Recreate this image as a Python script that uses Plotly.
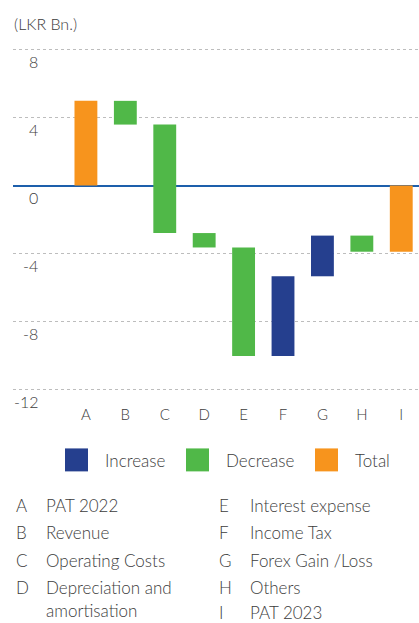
import plotly.graph_objects as go

# ---- data ----
categories = ["A", "B", "C", "D", "E", "F", "G", "H", "I"]
measures = ["total", "relative", "relative", "relative", "relative",
            "relative", "relative", "relative", "total"]
values = [5.0, -1.4, -6.4, -0.85, -6.4, 4.7, 2.4, -0.95, -3.9]

y_tickvals = [8, 4, 0, -4, -8, -12]
y_ticktext = ["8", "4", "0", "-4", "-8", "-12"]

legend_names = ["Increase", "Decrease", "Total"]
key_letters_left = ["A", "B", "C", "D", ""]
key_labels_left = ["PAT 2022", "Revenue", "Operating Costs", "Depreciation and", "amortisation"]
key_letters_right = ["E", "F", "G", "H", "I"]
key_labels_right = ["Interest expense", "Income Tax", "Forex Gain /Loss", "Others", "PAT 2023"]

# ---- styles ----
COL_INC = "#253F8E"
COL_DEC = "#50B848"
COL_TOT = "#F7941D"
TXT = "#3c3c3c"
FONT = "Lato"
WEIGHT = 300

W, H = 419, 623
L, R, T, B = 13, 0, 47, 230.5
PW, PH = W - L - R, H - T - B
UNIT_PX = 16.98
PAD = (50 - T) / UNIT_PX


def px_x(x):
    return (x - L) / PW


def px_y(y):
    return (H - B - y) / PH


def f(size):
    return dict(family=FONT, size=size, color=TXT, weight=WEIGHT)


# compute waterfall segments
groups = {"Increase": ([], [], []), "Decrease": ([], [], []), "Total": ([], [], [])}
running = 0.0
for c, m, v in zip(categories, measures, values):
    if m == "total":
        groups["Total"][0].append(c)
        groups["Total"][1].append(v)
        groups["Total"][2].append(0)
        running = v
    else:
        key = "Increase" if v > 0 else "Decrease"
        groups[key][0].append(c)
        groups[key][1].append(v)
        groups[key][2].append(running)
        running += v

colors = {"Increase": COL_INC, "Decrease": COL_DEC, "Total": COL_TOT}

fig = go.Figure()
for name in legend_names:
    xs, ys, bs = groups[name]
    fig.add_trace(go.Bar(x=xs, y=ys, base=bs, name=name, width=0.58,
                         marker=dict(color=colors[name], line=dict(width=0)),
                         showlegend=False))

annotations = []
# y tick labels (shifted below gridlines)
for v, t in zip(y_tickvals, y_ticktext):
    annotations.append(dict(x=px_x(40), xref="paper", xanchor="right",
                            y=v, yref="y", yanchor="middle", yshift=-12,
                            text=t, showarrow=False, font=f(16)))

# unit title
annotations.append(dict(x=px_x(12), xref="paper", xanchor="left",
                        y=px_y(23), yref="paper", yanchor="middle",
                        text="(LKR Bn.)", showarrow=False, font=f(16)))

# custom legend
shapes = []
sq_x = [65, 186, 315]
txt_x = [103, 224, 353]
for name, sx, tx in zip(legend_names, sq_x, txt_x):
    shapes.append(dict(type="rect", xref="paper", yref="paper",
                       x0=px_x(sx), x1=px_x(sx + 23), y0=px_y(472), y1=px_y(449),
                       fillcolor=colors[name], line=dict(width=0)))
    annotations.append(dict(x=px_x(tx), xref="paper", xanchor="left",
                            y=px_y(461), yref="paper", yanchor="middle",
                            text=name, showarrow=False, font=f(17)))

# key
row_y_left = [506, 533, 561, 588, 611]
row_y_right = [506, 533, 561, 588, 613]
for lt, lb, ry in zip(key_letters_left, key_labels_left, row_y_left):
    if lt:
        annotations.append(dict(x=px_x(14), xref="paper", xanchor="left",
                                y=px_y(ry), yref="paper", yanchor="middle",
                                text=lt, showarrow=False, font=f(17)))
    annotations.append(dict(x=px_x(44), xref="paper", xanchor="left",
                            y=px_y(ry), yref="paper", yanchor="middle",
                            text=lb, showarrow=False, font=f(17)))
for lt, lb, ry in zip(key_letters_right, key_labels_right, row_y_right):
    annotations.append(dict(x=px_x(217), xref="paper", xanchor="left",
                            y=px_y(ry), yref="paper", yanchor="middle",
                            text=lt, showarrow=False, font=f(17)))
    annotations.append(dict(x=px_x(248), xref="paper", xanchor="left",
                            y=px_y(ry), yref="paper", yanchor="middle",
                            text=lb, showarrow=False, font=f(17)))

fig.update_layout(
    width=W, height=H,
    margin=dict(l=L, r=R, t=T, b=B, autoexpand=False),
    paper_bgcolor="white", plot_bgcolor="white",
    barmode="overlay",
    font=f(15),
    xaxis=dict(type="category", categoryorder="array", categoryarray=categories,
               range=[-1.85, 8.45], showgrid=False, zeroline=False,
               showline=False, ticks="", ticklabelstandoff=12,
               tickfont=f(15), fixedrange=True),
    yaxis=dict(range=[-12 - PAD, 8 + PAD], tickvals=y_tickvals, showticklabels=False,
               showgrid=True, gridcolor="#bdbdbd", griddash="dot", gridwidth=1,
               zeroline=True, zerolinecolor="#1d5fab", zerolinewidth=2,
               showline=False, ticks="", fixedrange=True),
    shapes=shapes,
    annotations=annotations,
)

fig.write_html("out.html", config={"displayModeBar": False},
               post_script="document.body.style.margin='0';document.body.style.overflow='hidden';")
